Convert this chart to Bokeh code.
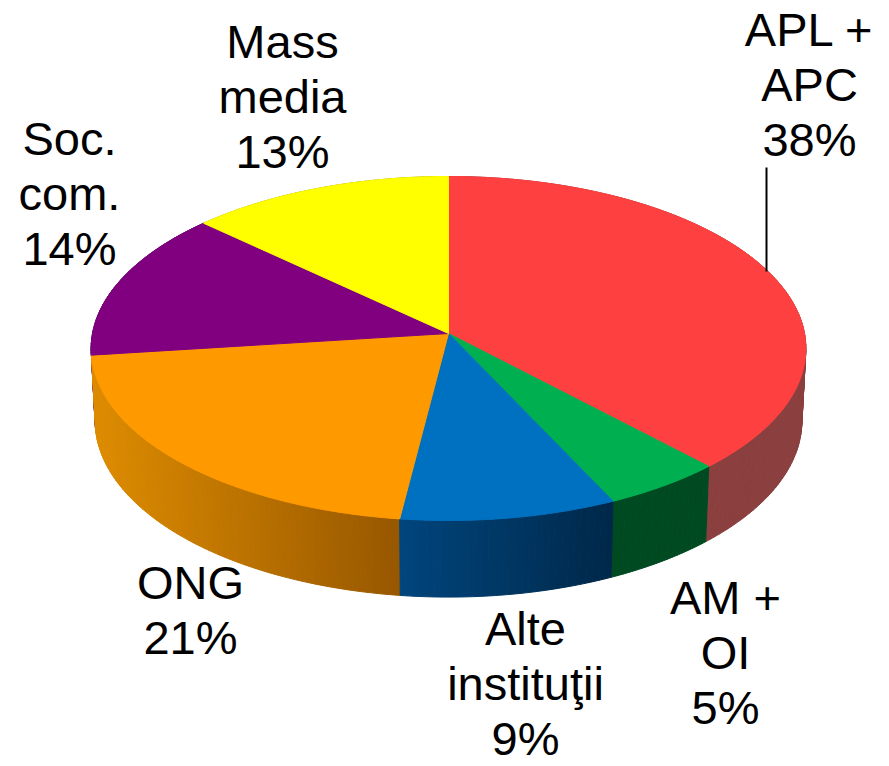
import math
import numpy as np
from bokeh.plotting import figure
from bokeh.models import Range1d, ColumnDataSource
from bokeh.core.properties import value
from bokeh.embed import file_html
from bokeh.resources import INLINE

# ---------------- data ----------------
categories = ["APL +\nAPC", "AM +\nOI", "Alte\ninstituţii", "ONG", "Soc.\ncom.", "Mass\nmedia"]
values = [38, 5, 9, 21, 14, 13]

# ---------------- style ----------------
top_colors = ["#FF4040", "#00B050", "#0070C0", "#FF9900", "#800080", "#FFFF00"]
wall_left = ["#8B3F3F", "#004A22", "#00457C", "#DE8C00", "#4A004A", "#9A9A00"]
wall_right = ["#8B3F3F", "#004A22", "#00284A", "#985800", "#4A004A", "#9A9A00"]

# label layout: (center x, first baseline y) in page pixels
label_anchor = [(809, 48), (725, 616), (525, 647), (190, 601), (69, 157), (282, 60)]
LINE_STEP = 55
BASELINE_ADJ = -19
FONT = "Liberation Sans"
FONT_SIZE = "47px"
leader = dict(x=[766, 766], y=[167, 271])

# 3D projection parameters (page pixel space)
CX, CY = 448.0, 333.0
R = 356.0
H = 83.0
SIN_A = 0.4795
COS_A = math.sqrt(1 - SIN_A ** 2)
D = 3583.0


def proj(theta, h):
    X = R * math.sin(theta)
    Z = -R * math.cos(theta)
    v = h * COS_A - Z * SIN_A
    zc = Z * COS_A + h * SIN_A
    s = D / (D - zc)
    return CX + s * X, CY - s * v


def hex2rgb(c):
    c = c.lstrip("#")
    return tuple(int(c[i:i + 2], 16) for i in (0, 2, 4))


def lerp_color(c1, c2, t):
    a, b = hex2rgb(c1), hex2rgb(c2)
    r = [int(round(a[k] + (b[k] - a[k]) * t)) for k in range(3)]
    return "#%02x%02x%02x" % tuple(r)


total = float(sum(values))
bounds = np.concatenate([[0.0], np.cumsum(values)]) / total * 2 * math.pi

# ---------------- walls ----------------
walls = []  # (depth, xs, ys, color)
for i in range(len(values)):
    t1, t2 = bounds[i], bounds[i + 1]
    n = max(4, int(math.degrees(t2 - t1)))
    angs = np.linspace(t1, t2, n + 1)
    segs = []
    for a, b in zip(angs[:-1], angs[1:]):
        pa_t = proj(a, 0)
        pb_t = proj(b, 0)
        pb_b = proj(b, -H)
        pa_b = proj(a, -H)
        xs = [pa_t[0], pb_t[0], pb_b[0], pa_b[0]]
        ys = [pa_t[1], pb_t[1], pb_b[1], pa_b[1]]
        m = (a + b) / 2
        depth = -R * math.cos(m) * COS_A
        segs.append((depth, xs, ys, sum(xs) / 4))
    front = [s for s in segs if s[0] > 0]
    if front:
        xmin = min(s[3] for s in front)
        xmax = max(s[3] for s in front)
    else:
        xmin, xmax = 0, 1
    for depth, xs, ys, xm in segs:
        t = (xm - xmin) / (xmax - xmin) if xmax > xmin else 0.0
        t = min(max(t, 0.0), 1.0)
        walls.append((depth, xs, ys, lerp_color(wall_left[i], wall_right[i], t)))

walls.sort(key=lambda w: w[0])
wall_src = ColumnDataSource(dict(
    xs=[w[1] for w in walls], ys=[w[2] for w in walls], color=[w[3] for w in walls]))

# ---------------- top faces ----------------
top_xs, top_ys = [], []
for i in range(len(values)):
    t1, t2 = bounds[i], bounds[i + 1]
    n = max(8, int(math.degrees(t2 - t1) * 2))
    angs = np.linspace(t1, t2, n + 1)
    xs, ys = [CX], [CY]
    for a in angs:
        x, y = proj(a, 0)
        xs.append(x)
        ys.append(y)
    top_xs.append(xs)
    top_ys.append(ys)
top_src = ColumnDataSource(dict(xs=top_xs, ys=top_ys, color=top_colors))

# ---------------- labels ----------------
lx, ly, lt = [], [], []
for cat, v, (ax, ay) in zip(categories, values, label_anchor):
    lines = cat.split("\n") + ["%d%%" % v]
    for k, line in enumerate(lines):
        lx.append(ax)
        ly.append(ay + k * LINE_STEP + BASELINE_ADJ)
        lt.append(line)
label_src = ColumnDataSource(dict(x=lx, y=ly, text=lt))

# ---------------- figure ----------------
p = figure(width=889, height=766, x_range=Range1d(0, 889), y_range=Range1d(766, 0),
           output_backend="svg", toolbar_location=None, min_border=0,
           x_axis_location=None, y_axis_location=None)
p.xgrid.grid_line_color = None
p.ygrid.grid_line_color = None
p.outline_line_color = None
p.background_fill_color = "white"
p.border_fill_color = "white"

p.patches("xs", "ys", source=wall_src, fill_color="color", line_color="color", line_width=1)
p.patches("xs", "ys", source=top_src, fill_color="color", line_color="color", line_width=1)
p.line(leader["x"], leader["y"], line_color="black", line_width=2)
p.text("x", "y", text="text", source=label_src, text_align="center",
       text_baseline="alphabetic", text_font=value(FONT), text_font_size=FONT_SIZE,
       text_color="black")

open("out.html", "w").write(file_html(p, INLINE))
